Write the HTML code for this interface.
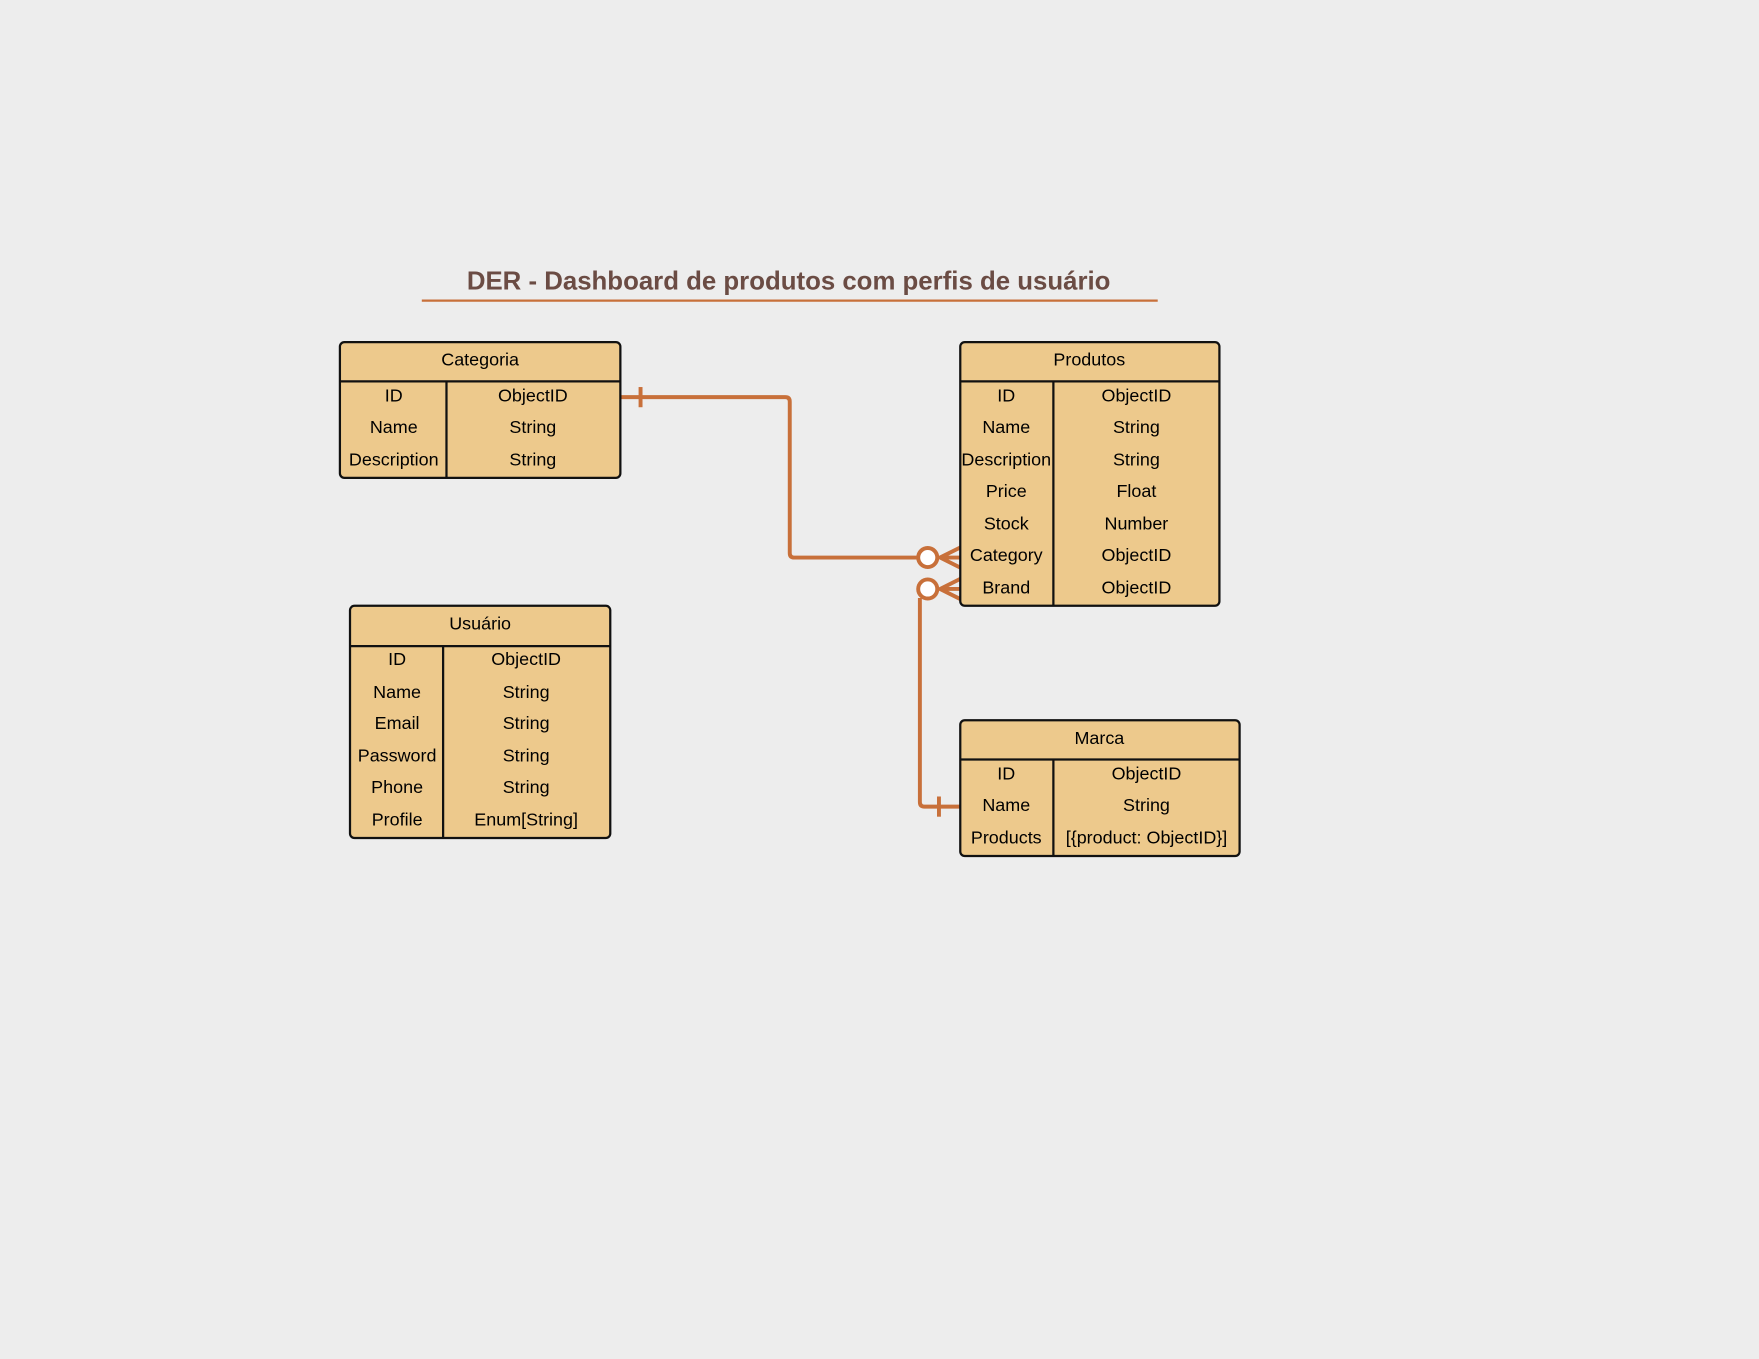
<!DOCTYPE html>
<html><head><style>html,body{margin:0;padding:0;background:#ededed}svg{display:block}</style></head><body>
<svg width="1759" height="1359" viewBox="0 0 1568 1211.4" preserveAspectRatio="none" xmlns="http://www.w3.org/2000/svg" font-family="Liberation Sans, sans-serif">
<rect width="1568" height="1212" fill="#ededed"/>
<text x="703" y="258" text-anchor="middle" font-size="23" font-weight="bold" fill="#6b4c44">DER - Dashboard de produtos com perfis de usuário</text>
<line x1="376" y1="268" x2="1032" y2="268" stroke="#c8703a" stroke-width="2"/>
<g stroke="#c8703a" stroke-width="3.5" fill="none" stroke-linejoin="round">
<path d="M553 354 H700 Q704 354 704 358 V493 Q704 497 708 497 H818"/>
<line x1="571" y1="345" x2="571" y2="363"/>
<path d="M856 488 L838 497 L856 506 M838 497 H856"/>
<circle cx="827" cy="497" r="8.5" fill="#fff"/>
<path d="M856 719 H824 Q820 719 820 715 V533"/>
<line x1="837" y1="710" x2="837" y2="728"/>
<path d="M856 516 L838 525 L856 534 M838 525 H856"/>
<circle cx="827" cy="525" r="8.5" fill="#fff"/>
</g>
<g stroke="#111" stroke-width="2" fill="#edc98c" font-size="16">
<rect x="303" y="305" width="250" height="121" rx="4"/>
<line x1="303" y1="340" x2="553" y2="340"/><line x1="398" y1="340" x2="398" y2="426"/>
<rect x="856" y="305" width="231" height="235" rx="4"/>
<line x1="856" y1="340" x2="1087" y2="340"/><line x1="939" y1="340" x2="939" y2="540"/>
<rect x="312" y="540" width="232" height="207" rx="4"/>
<line x1="312" y1="576" x2="544" y2="576"/><line x1="395" y1="576" x2="395" y2="747"/>
<rect x="856" y="642" width="249" height="121" rx="4"/>
<line x1="856" y1="677" x2="1105" y2="677"/><line x1="939" y1="677" x2="939" y2="763"/>
</g>
<g font-size="16" fill="#000" text-anchor="middle">
<text x="428" y="326">Categoria</text>
<text x="351" y="358">ID</text><text x="475" y="358">ObjectID</text>
<text x="351" y="386">Name</text><text x="475" y="386">String</text>
<text x="351" y="415">Description</text><text x="475" y="415">String</text>
<text x="971" y="326">Produtos</text>
<text x="897" y="358">ID</text><text x="1013" y="358">ObjectID</text>
<text x="897" y="386">Name</text><text x="1013" y="386">String</text>
<text x="897" y="415">Description</text><text x="1013" y="415">String</text>
<text x="897" y="443">Price</text><text x="1013" y="443">Float</text>
<text x="897" y="472">Stock</text><text x="1013" y="472">Number</text>
<text x="897" y="500">Category</text><text x="1013" y="500">ObjectID</text>
<text x="897" y="529">Brand</text><text x="1013" y="529">ObjectID</text>
<text x="428" y="561">Usuário</text>
<text x="354" y="593">ID</text><text x="469" y="593">ObjectID</text>
<text x="354" y="622">Name</text><text x="469" y="622">String</text>
<text x="354" y="650">Email</text><text x="469" y="650">String</text>
<text x="354" y="679">Password</text><text x="469" y="679">String</text>
<text x="354" y="707">Phone</text><text x="469" y="707">String</text>
<text x="354" y="736">Profile</text><text x="469" y="736">Enum[String]</text>
<text x="980" y="663">Marca</text>
<text x="897" y="695">ID</text><text x="1022" y="695">ObjectID</text>
<text x="897" y="723">Name</text><text x="1022" y="723">String</text>
<text x="897" y="752">Products</text><text x="1022" y="752">[{product: ObjectID}]</text>
</g>
</svg>
</body></html>
